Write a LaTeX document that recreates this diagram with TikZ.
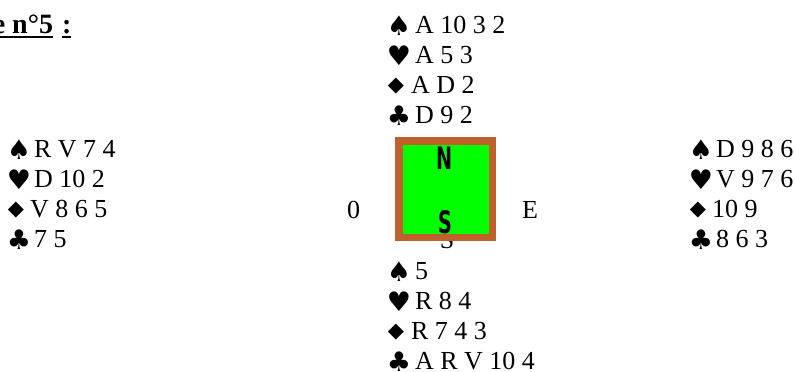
\documentclass[tikz,border=0pt]{standalone}
\usepackage{fontspec}
\usepackage{graphicx}
\setmainfont{Liberation Serif}
\newfontfamily\suitfont{DejaVu Sans}
\newfontfamily\heavyfont{DejaVu Sans}
\definecolor{boxbrown}{RGB}{192,96,42}
\definecolor{boxgreen}{RGB}{0,255,0}
% #1 name, #2 symbol centre x, #3 baseline y, #4 symbol, #5 text x, #6 text
\newcommand\cardrow[6]{%
  \node[suitsym] (#1s) at (#2,#3-7.5) {#4};
  \node[cardtxt] (#1t) at (#5,#3) {#6};}
\newcommand\diarow[5]{%
  \node[diasym] (#1s) at (#2-3,#3-6.5) {◆};
  \node[cardtxt] (#1t) at (#4-4,#3) {#5};}
\begin{document}
\begin{tikzpicture}[x=1pt,y=-1pt,
  every node/.style={inner sep=0pt,outer sep=0pt},
  cardtxt/.style={anchor=base west,font=\fontsize{26}{30}\selectfont},
  suitsym/.style={anchor=center,font=\suitfont\fontsize{27}{30}\selectfont},
  diasym/.style={anchor=center,font=\suitfont\fontsize{21}{24}\selectfont},
  title/.style={anchor=base west,font=\fontsize{28}{32}\selectfont\bfseries},
  boxletter/.style={font=\heavyfont\bfseries\fontsize{31}{32}\selectfont},
  board/.style={draw=boxbrown,fill=boxgreen,line width=7.5pt,minimum width=93.5pt,minimum height=96.5pt}]
\useasboundingbox (0,0) rectangle (795,372);
\clip (0,0) rectangle (795,372);
% title
\node[title,anchor=base east] (t1) at (53,33) {e n°5};
\node[title] (t2) at (62,33) {:};
\draw[line width=2pt] ([yshift=-4pt]t1.base west) -- ([yshift=-4pt]t1.base east);
\draw[line width=2pt] ([yshift=-4pt]t2.base west) -- ([yshift=-4pt]t2.base east);
% North
\cardrow{n1}{399}{33}{♠}{415}{A 10 3 2}
\cardrow{n2}{399}{63}{♥}{415}{A 5 3}
\diarow{n3}{399}{93}{415}{A D 2}
\cardrow{n4}{399}{123}{♣}{415}{D 9 2}
% West
\cardrow{w1}{19}{157}{♠}{34}{R V 7 4}
\cardrow{w2}{19}{187}{♥}{34}{D 10 2}
\diarow{w3}{19}{217}{34}{V 8 6 5}
\cardrow{w4}{19}{247}{♣}{34}{7 5}
% East
\cardrow{e1}{701}{157}{♠}{716}{D 9 8 6}
\cardrow{e2}{701}{187}{♥}{716}{V 9 7 6}
\diarow{e3}{701}{217}{716}{10 9}
\cardrow{e4}{701}{247}{♣}{716}{8 6 3}
% South
\cardrow{s1}{399}{279}{♠}{415}{5}
\cardrow{s2}{399}{309}{♥}{415}{R 8 4}
\diarow{s3}{399}{339}{415}{R 7 4 3}
\cardrow{s4}{399}{369}{♣}{415}{A R V 10 4}
% table
\node[cardtxt,anchor=base] (slabel) at (447,248) {S};
\node[board] (bd) at (445.5,189) {};
\node[boxletter] (bn) at (444.5,158) {\scalebox{0.62}[1]{N}};
\node[boxletter] (bs) at (445,222.5) {\scalebox{0.62}[1]{S}};
\node[cardtxt] (west) at (347,218) {0};
\node[cardtxt] (east) at (522,218) {E};
\end{tikzpicture}
\end{document}
